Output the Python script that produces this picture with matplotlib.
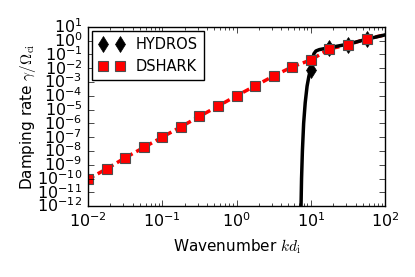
import matplotlib
matplotlib.use('Agg')
import matplotlib.pyplot as plt
import numpy as np

plt.style.use('classic')
plt.rcParams['figure.facecolor'] = 'white'
plt.rcParams['savefig.facecolor'] = 'white'
plt.rcParams['mathtext.fontset'] = 'cm'
plt.rcParams['font.size'] = 10

# DSHARK points (k d_i, damping rate)
dshark_k = [0.01, 0.0178, 0.0316, 0.0562, 0.1, 0.178, 0.316, 0.562, 1.0, 1.78, 3.16, 5.62, 10.0, 17.8, 31.6, 56.2]
dshark_g = [10**-10.05, 10**-9.3, 10**-8.5, 10**-7.75, 10**-7.0, 10**-6.25, 10**-5.5, 10**-4.75,
            10**-4.0, 10**-3.28, 10**-2.56, 10**-1.9, 10**-1.4, 10**-0.6, 10**-0.3, 10**0.13]
# DSHARK dashed curve
dline_k = dshark_k + [100.0]
dline_g = dshark_g + [10**0.42]

# HYDROS points and curve
hydros_k = [10.0, 17.8, 31.6, 56.2]
hydros_g = [10**-2.1, 10**-0.55, 10**-0.3, 10**0.13]
hline_k = [7.35, 7.5, 7.7, 8.0, 8.4, 8.9, 9.4, 10.0, 10.5, 11.0, 11.7, 13.0, 18.0, 32.0, 56.0, 100.0]
hline_g = [10**-12.5, 10**-10, 10**-8, 10**-6, 10**-4.5, 10**-3.3, 10**-2.6, 10**-2.0, 10**-1.4,
           10**-0.95, 10**-0.75, 10**-0.65, 10**-0.5, 10**-0.25, 10**0.1, 10**0.42]

fig = plt.figure(figsize=(4.15, 2.77), dpi=100)
ax = fig.add_axes([0.212, 0.256, 0.716, 0.647])

ax.plot(dline_k, dline_g, 'r--', lw=2.5, dashes=(5, 3))
ax.plot(hline_k, hline_g, 'k-', lw=2.5)
ax.plot(hydros_k, hydros_g, 'kd', ms=8, label='HYDROS')
ax.plot(dshark_k, dshark_g, 'rs', ms=7, mec='0.3', mew=0.8, label='DSHARK')

ax.set_xscale('log')
ax.set_yscale('log')
ax.set_xlim(1e-2, 1e2)
ax.set_ylim(1e-12, 1e1)
ax.set_yticks([10.0**p for p in range(-12, 2)])
ax.yaxis.set_minor_locator(matplotlib.ticker.NullLocator())
ax.tick_params(labelsize=11.5)
ax.set_xlabel(r'Wavenumber $kd_{\rm i}$', fontsize=11)
ax.set_ylabel(r'Damping rate $\gamma/\Omega_{\rm ci}$', fontsize=11, labelpad=-0.5)

leg = ax.legend(loc='upper left', numpoints=2, fontsize=10.5, borderaxespad=0.3, handlelength=1.8)
leg.get_frame().set_edgecolor('k')

fig.savefig('out.png', dpi=100)
